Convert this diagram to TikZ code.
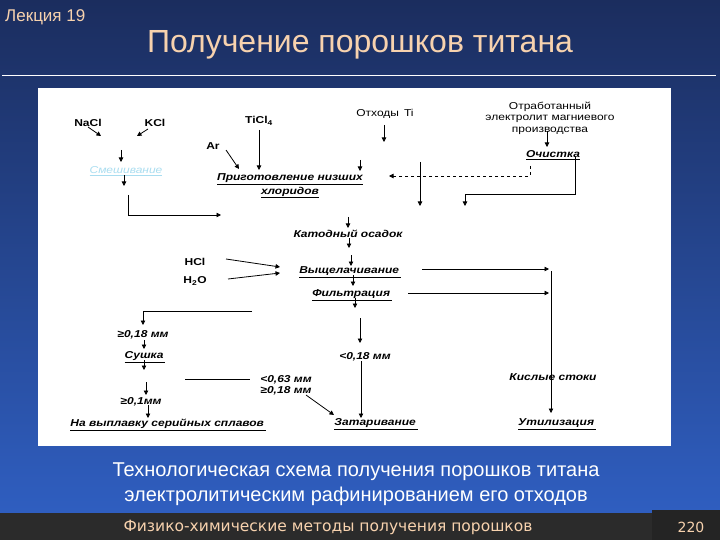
\documentclass[tikz,border=0pt]{standalone}
\usepackage{fontspec}
\setmainfont{Liberation Sans}
\newfontfamily\dfont[FakeStretch=1.2]{Liberation Sans}
\newfontfamily\foot{DejaVu Sans}
\usetikzlibrary{arrows.meta}
\definecolor{bgtop}{HTML}{1B2D5E}
\definecolor{bgbot}{HTML}{2F5EC0}
\definecolor{peach}{HTML}{F7D2AE}
\definecolor{barc}{HTML}{2B2B2B}
\definecolor{mixc}{HTML}{A9DDF0}
\tikzset{
  lbl/.style={font=\dfont\fontsize{10}{11}\selectfont\bfseries, inner sep=1pt},
  ilbl/.style={font=\dfont\fontsize{10}{11}\selectfont\bfseries\itshape, inner sep=1pt, align=center},
  arr/.style={draw=black, line width=0.8pt, -{Triangle[length=4.5pt,width=4.5pt]}},
  ln/.style={draw=black, line width=0.8pt},
  dsh/.style={draw=black, line width=0.8pt, dashed, -{Triangle[length=4.5pt,width=4.5pt]}}
}
\begin{document}
\begin{tikzpicture}[x=1pt,y=-1pt]
\useasboundingbox (0,0) rectangle (720,540);
% background
\shade[top color=bgtop, bottom color=bgbot] (0,0) rectangle (720,513);
\fill[barc] (0,513) rectangle (652,540);
\fill[barc!85!black] (652,510) rectangle (720,540);
\draw[white, line width=1pt] (2,76) -- (716,76);
\fill[white] (38,88) rectangle (671,446);
% header
\node[anchor=west, text=peach, font=\fontsize{17}{18}\selectfont, inner sep=0] (lect) at (5,17) {Лекция 19};
\node[text=peach, font=\fontsize{32}{33}\selectfont, inner sep=0] (title) at (360,45) {Получение порошков титана};
% caption
\node[text=white, font=\fontsize{20}{25}\selectfont, align=center, inner sep=0] (cap) at (356,484) {Технологическая схема получения порошков титана\\электролитическим рафинированием его отходов};
\node[text=peach, font=\foot\fontsize{15.5}{16}\selectfont, inner sep=0] (foot) at (328,527) {Физико-химические методы получения порошков};
\node[text=peach, font=\foot\fontsize{14}{15}\selectfont, inner sep=0] (page) at (691,527) {220};

% ---- diagram nodes ----
\node[lbl] (nacl) at (88,123) {NaCl};
\node[lbl] (kcl) at (155,123) {KCl};
\node[lbl] (ticl) at (259,121) {TiCl\textsubscript{4}};
\node[lbl] (ar) at (213,146) {Ar};
\node[lbl, font=\dfont\fontsize{10}{11}\selectfont] (otx) at (385,114) {Отходы\, Ti};
\node[lbl, font=\dfont\fontsize{10}{11.5}\selectfont, align=center] (otr) at (550,118) {Отработанный\\электролит магниевого\\производства};
\node[ilbl, text=mixc, font=\dfont\fontsize{10}{11}\selectfont\itshape] (mix) at (126,171) {\underline{Смешивание}};
\node[ilbl] (prig) at (290,186) {\underline{Приготовление низших}\\[1pt]\underline{хлоридов}};
\node[ilbl] (och) at (553,155) {\underline{Очистка}};
\node[ilbl] (kat) at (348,234) {Катодный осадок};
\node[lbl] (hcl) at (195,262) {HCl};
\node[lbl] (h2o) at (195,281) {H\textsubscript{2}O};
\node[ilbl] (vysh) at (350,272) {\underline{Выщелачивание\,}};
\node[ilbl] (filt) at (352,295) {\underline{Фильтрация\,}};
\node[ilbl] (g018) at (143,335) {≥0,18 мм};
\node[ilbl] (sush) at (145,357) {\underline{Сушка\,}};
\node[ilbl] (l063) at (286,385) {<0,63 мм\\≥0,18 мм};
\node[ilbl] (g01) at (141,402) {≥0,1мм};
\node[ilbl] (nav) at (168,425) {\underline{На выплавку серийных сплавов\,}};
\node[ilbl] (l018) at (365,357) {<0,18 мм};
\node[ilbl] (zat) at (376,424) {\underline{Затаривание\,}};
\node[ilbl] (kisl) at (553,377) {Кислые стоки};
\node[ilbl] (util) at (557,424) {\underline{Утилизация\,}};

% ---- connector coordinates ----
\coordinate (c1a) at (88,127);  \coordinate (c1b) at (101,136);
\coordinate (c2a) at (148,129); \coordinate (c2b) at (137,136);
\coordinate (c3a) at (121,150); \coordinate (c3b) at (121,162);
\coordinate (c4a) at (124,175); \coordinate (c4b) at (124,186);
\coordinate (c5a) at (128,195); \coordinate (c5b) at (128,215); \coordinate (c5c) at (221,215);
\coordinate (c6a) at (259,130); \coordinate (c6b) at (259,170);
\coordinate (c7a) at (226,150); \coordinate (c7b) at (239,169);
\coordinate (c8a) at (384,125); \coordinate (c8b) at (384,142);
\coordinate (c9a) at (360,160); \coordinate (c9b) at (360,171);
\coordinate (c10a) at (420,162); \coordinate (c10b) at (420,206);
\coordinate (c11a) at (530,166); \coordinate (c11b) at (530,176); \coordinate (c11c) at (389,176);
\coordinate (c12a) at (547,131); \coordinate (c12b) at (547,147);
\coordinate (c13a) at (575,157); \coordinate (c13b) at (575,194); \coordinate (c13c) at (465,194); \coordinate (c13d) at (465,206);
\coordinate (c14a) at (348,217); \coordinate (c14b) at (348,228);
\coordinate (c15a) at (349,238); \coordinate (c15b) at (349,248);
\coordinate (c16a) at (351,255); \coordinate (c16b) at (351,266);
\coordinate (c17a) at (353,275); \coordinate (c17b) at (353,286);
\coordinate (c18a) at (355,298); \coordinate (c18b) at (355,308);
\coordinate (c19a) at (226,259); \coordinate (c19b) at (280,267);
\coordinate (c20a) at (228,279); \coordinate (c20b) at (280,273);
\coordinate (c21a) at (422,269); \coordinate (c21b) at (549,269);
\coordinate (c22a) at (408,293); \coordinate (c22b) at (549,293);
\coordinate (c23a) at (551,271); \coordinate (c23b) at (551,413);
\coordinate (c24a) at (252,311); \coordinate (c24b) at (143,311); \coordinate (c24c) at (143,325);
\coordinate (c25a) at (144,340); \coordinate (c25b) at (144,349);
\coordinate (c26a) at (144,360); \coordinate (c26b) at (144,370);
\coordinate (c27a) at (185,379); \coordinate (c27b) at (250,379);
\coordinate (c28a) at (306,395); \coordinate (c28b) at (334,415);
\coordinate (c29a) at (146,382); \coordinate (c29b) at (146,395);
\coordinate (c30a) at (148,405); \coordinate (c30b) at (148,418);
\coordinate (c31a) at (360,318); \coordinate (c31b) at (360,343);
\coordinate (c32a) at (361,361); \coordinate (c32b) at (361,418);

% ---- connectors ----
\draw[arr] (c1a) -- (c1b);
\draw[arr] (c2a) -- (c2b);
\draw[arr] (c3a) -- (c3b);
\draw[arr] (c4a) -- (c4b);
\draw[arr] (c5a) -- (c5b) -- (c5c);
\draw[arr] (c6a) -- (c6b);
\draw[arr] (c7a) -- (c7b);
\draw[arr] (c8a) -- (c8b);
\draw[arr] (c9a) -- (c9b);
\draw[arr] (c10a) -- (c10b);
\draw[dsh] (c11a) -- (c11b) -- (c11c);
\draw[arr] (c12a) -- (c12b);
\draw[arr] (c13a) -- (c13b) -- (c13c) -- (c13d);
\draw[arr] (c14a) -- (c14b);
\draw[arr] (c15a) -- (c15b);
\draw[arr] (c16a) -- (c16b);
\draw[arr] (c17a) -- (c17b);
\draw[arr] (c18a) -- (c18b);
\draw[arr] (c19a) -- (c19b);
\draw[arr] (c20a) -- (c20b);
\draw[arr] (c21a) -- (c21b);
\draw[arr] (c22a) -- (c22b);
\draw[arr] (c23a) -- (c23b);
\draw[arr] (c24a) -- (c24b) -- (c24c);
\draw[arr] (c25a) -- (c25b);
\draw[arr] (c26a) -- (c26b);
\draw[ln] (c27a) -- (c27b);
\draw[arr] (c28a) -- (c28b);
\draw[arr] (c29a) -- (c29b);
\draw[arr] (c30a) -- (c30b);
\draw[arr] (c31a) -- (c31b);
\draw[arr] (c32a) -- (c32b);
\end{tikzpicture}
\end{document}
